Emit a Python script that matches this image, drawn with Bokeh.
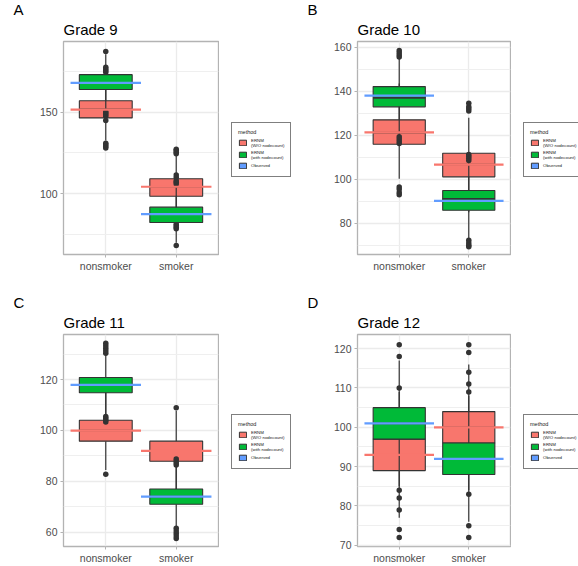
from bokeh.plotting import figure
from bokeh.models import Range1d, FixedTicker, ColumnDataSource, Legend, LegendItem, Title
from bokeh.layouts import row, column
from bokeh.embed import file_html
from bokeh.resources import INLINE

# ---------------- data ----------------
categories = ["nonsmoker", "smoker"]
method_labels = ["ERNM\n(W/O nodecount)", "ERNM\n(with nodecount)", "Observed"]
method_colors = ["#F8766D", "#00BA38", "#619CFF"]
grade_titles = ["Grade 9", "Grade 10", "Grade 11", "Grade 12"]
panel_tags = ["A", "B", "C", "D"]

# per category: [lower whisker, Q1, median, Q3, upper whisker]
g9_wo_stats = [[132.6, 146.5, 151.8, 157.0, 173.0], [82.5, 98.5, 104.3, 109.2, 123.5]]
g9_with_stats = [[151.6, 163.9, 168.0, 173.0, 185.5], [70.0, 82.4, 87.5, 91.8, 105.0]]
g9_wo_out = [[128.0, 129.0, 130.0, 131.0, 174.5, 175.5, 176.5, 177.5],
             [78.5, 79.5, 80.5, 81.5, 124.5, 125.5, 126.5, 127.3]]
g9_with_out = [[144.9, 147.5, 148.5, 149.5, 150.3, 187.1],
               [68.3, 106.0, 107.0, 108.0, 110.0, 111.5]]
g9_wo_ref = [151.6, 104.3]
g9_observed = [168.0, 87.5]

g10_wo_stats = [[100.2, 115.9, 121.2, 127.0, 143.5], [85.0, 101.1, 106.7, 111.8, 127.9]]
g10_with_stats = [[120.0, 132.9, 137.0, 142.1, 155.0], [73.0, 85.9, 91.1, 94.9, 108.2]]
g10_wo_out = [[93.0, 94.0, 95.5, 96.5], [131.0, 132.0, 133.0, 134.5]]
g10_with_out = [[116.3, 117.3, 118.3, 119.3, 155.5, 156.5, 157.5, 158.5],
                [69.3, 70.0, 71.0, 72.3, 108.5, 109.5, 110.5, 111.3]]
g10_wo_ref = [121.3, 106.6]
g10_observed = [138.0, 90.2]

g11_wo_stats = [[84.5, 95.8, 100.0, 104.0, 116.3], [76.0, 87.9, 92.0, 95.8, 107.7]]
g11_with_stats = [[106.0, 114.8, 117.9, 120.8, 129.8], [62.2, 71.0, 74.0, 77.0, 86.0]]
g11_wo_out = [[82.8], [108.9]]
g11_with_out = [[103.3, 104.0, 104.8, 105.5, 130.3, 131.3, 132.3, 133.3, 134.3],
                [57.5, 58.5, 59.5, 60.5, 61.6, 86.4, 87.2, 88.0, 88.8]]
g11_wo_ref = [99.9, 92.0]
g11_observed = [117.9, 74.0]

g12_wo_stats = [[77.0, 89.0, 93.0, 97.0, 109.0], [84.0, 96.0, 100.0, 104.0, 116.0]]
g12_with_stats = [[85.0, 97.0, 101.0, 105.0, 117.0], [76.0, 88.0, 92.0, 96.0, 108.0]]
g12_wo_out = [[72.0, 74.0, 110.0], [83.0, 119.0, 121.0]]
g12_with_out = [[79.0, 82.0, 84.0, 118.0, 121.0], [72.0, 75.0, 109.0, 111.0, 114.0]]
g12_wo_ref = [93.0, 100.0]
g12_observed = [101.0, 92.0]

# axis ranges / ticks
y_ranges = [(62.8, 193.3), (65.8, 162.6), (54.4, 137.7), (69.7, 123.6)]
y_major = [[100, 150], [80, 100, 120, 140, 160], [60, 80, 100, 120], [70, 80, 90, 100, 110, 120]]
y_minor = [[75, 125, 175], [70, 90, 110, 130, 150], [70, 90, 110, 130], [75, 85, 95, 105, 115]]

# ---------------- style ----------------
FONT = "Liberation Sans"
DARK = "#333333"
BOX_W = 0.75
REF_W = 1.0
LEG_H = 58
NAN = float("nan")


def draw_boxes(p, stats, outliers, color):
    xs = [i + 1 for i in range(len(categories))]
    ox, oy = [], []
    for x, vals in zip(xs, outliers):
        ox += [x] * len(vals)
        oy += list(vals)
    p.scatter(ox, oy, size=5.5, color=DARK, line_width=0)
    src = ColumnDataSource(dict(
        x=xs,
        lo=[s[0] for s in stats], q1=[s[1] for s in stats], med=[s[2] for s in stats],
        q3=[s[3] for s in stats], hi=[s[4] for s in stats],
        xl=[x - BOX_W / 2 for x in xs], xr=[x + BOX_W / 2 for x in xs]))
    p.segment(x0="x", y0="lo", x1="x", y1="q1", source=src, line_color=DARK, line_width=1.2)
    p.segment(x0="x", y0="q3", x1="x", y1="hi", source=src, line_color=DARK, line_width=1.2)
    p.vbar(x="x", width=BOX_W, bottom="q1", top="q3", source=src,
           fill_color=color, line_color=DARK, line_width=1.1)
    p.segment(x0="xl", y0="med", x1="xr", y1="med", source=src, line_color=DARK, line_width=1.6)


def draw_ref(p, vals, color):
    xs = [i + 1 for i in range(len(categories))]
    p.segment(x0=[x - REF_W / 2 for x in xs], x1=[x + REF_W / 2 for x in xs],
              y0=vals, y1=vals, line_color=color, line_width=2.2)


def make_legend_fig(width, height, top, bottom):
    frame_h = height - top - bottom
    lf = figure(width=width, height=height, output_backend="svg", toolbar_location=None,
                x_range=Range1d(0, 1), y_range=Range1d(0, 1),
                x_axis_location=None, y_axis_location=None,
                min_border_left=0, min_border_right=0,
                min_border_top=top, min_border_bottom=bottom)
    lf.outline_line_color = None
    lf.xgrid.visible = False
    lf.ygrid.visible = False
    # legend keys only (no visible data)
    rs = [lf.vbar(x=[NAN], width=0.5, bottom=[NAN], top=[NAN], fill_color=c,
                  line_color=DARK, line_width=1.0) for c in method_colors]
    legend = Legend(items=[LegendItem(label=lab, renderers=[r])
                           for lab, r in zip(method_labels, rs)],
                    location=(12, frame_h / 2 - LEG_H / 2),
                    title="method", title_text_font=FONT, title_text_font_size="5.5px",
                    title_text_font_style="normal", title_text_color="#1A1A1A",
                    title_standoff=3,
                    label_text_font=FONT, label_text_font_size="4.4px",
                    label_text_color="#1A1A1A", label_height=8, label_standoff=4,
                    glyph_width=9, glyph_height=7, spacing=2, padding=6, margin=0,
                    border_line_color="black", border_line_width=1.2,
                    background_fill_color="white", background_fill_alpha=1.0)
    lf.add_layout(legend, "center")
    return lf


def make_panel(k, wo_stats, with_stats, wo_out, with_out, wo_ref, observed,
               cell_w, height, frame_w, top, bottom):
    left = 63
    p = figure(width=left + frame_w + 1, height=height, output_backend="svg",
               toolbar_location=None,
               x_range=Range1d(0.4, 2.6), y_range=Range1d(*y_ranges[k]),
               min_border_left=left, min_border_right=1,
               min_border_top=top, min_border_bottom=bottom, title=None)
    p.add_layout(Title(text=grade_titles[k], text_font=FONT, text_font_size="15px",
                       text_font_style="normal", text_color="black", align="left",
                       standoff=8), "above")
    p.add_layout(Title(text=panel_tags[k], text_font=FONT, text_font_size="15px",
                       text_font_style="normal", text_color="black", align="left",
                       offset=-50, standoff=-7), "above")
    p.background_fill_color = "white"
    p.border_fill_color = "white"
    p.outline_line_color = "#B3B3B3"
    p.outline_line_width = 1.3

    p.xaxis.ticker = FixedTicker(ticks=[1, 2], minor_ticks=[])
    p.xaxis.major_label_overrides = {i + 1: c for i, c in enumerate(categories)}
    p.yaxis.ticker = FixedTicker(ticks=y_major[k], minor_ticks=y_minor[k])
    for ax in (p.xaxis, p.yaxis):
        ax.axis_line_color = None
        ax.major_tick_line_color = "#B3B3B3"
        ax.major_tick_out = 3
        ax.major_tick_in = 0
        ax.minor_tick_line_color = None
        ax.major_label_standoff = 2
        ax.major_label_text_font = FONT
        ax.major_label_text_font_size = "10.5px"
        ax.major_label_text_color = "#4D4D4D"
    p.xgrid.grid_line_color = "#EBEBEB"
    p.xgrid.grid_line_width = 1.3
    p.ygrid.grid_line_color = "#EBEBEB"
    p.ygrid.grid_line_width = 1.3
    p.ygrid.minor_grid_line_color = "#EFEFEF"
    p.ygrid.minor_grid_line_width = 1.1

    draw_boxes(p, wo_stats, wo_out, method_colors[0])
    draw_boxes(p, with_stats, with_out, method_colors[1])
    draw_ref(p, wo_ref, method_colors[0])
    draw_ref(p, observed, method_colors[2])

    lf = make_legend_fig(cell_w - (left + frame_w + 1), height, top, bottom)
    return row(p, lf)


cA = make_panel(0, g9_wo_stats, g9_with_stats, g9_wo_out, g9_with_out, g9_wo_ref, g9_observed,
                294, 293, 155, 41, 39)
cB = make_panel(1, g10_wo_stats, g10_with_stats, g10_wo_out, g10_with_out, g10_wo_ref, g10_observed,
                284, 293, 153, 41, 39)
cC = make_panel(2, g11_wo_stats, g11_with_stats, g11_wo_out, g11_with_out, g11_wo_ref, g11_observed,
                294, 273, 155, 41, 19)
cD = make_panel(3, g12_wo_stats, g12_with_stats, g12_wo_out, g12_with_out, g12_wo_ref, g12_observed,
                284, 273, 153, 41, 19)

layout = column(row(cA, cB), row(cC, cD))
open("out.html", "w").write(file_html(layout, INLINE))
